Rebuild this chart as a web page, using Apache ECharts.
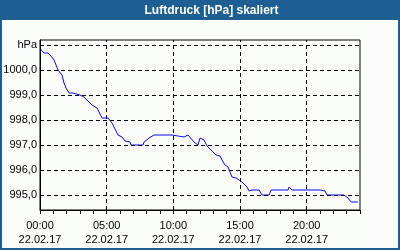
<!DOCTYPE html>
<html>
<head>
<meta charset="utf-8">
<script src="https://cdn.jsdelivr.net/npm/echarts@6/dist/echarts.min.js"></script>
<style>
html,body{margin:0;padding:0;background:#1d5e93;}
#c{width:400px;height:250px;}
</style>
</head>
<body>
<div id="c"></div>
<script>
// time in hours since 22.02.17 00:00
var hours = [0.04,0.3,0.6,0.83,1.05,1.35,1.5,1.65,1.8,1.95,2.18,2.48,3.0,3.3,3.6,3.9,4.28,4.5,4.65,5.1,5.4,5.63,5.85,6.15,6.38,6.75,6.83,7.73,7.8,8.18,8.55,8.93,9.0,9.15,9.9,10.05,10.8,11.1,11.25,11.55,11.85,12.0,12.15,12.3,12.53,12.9,13.2,13.5,13.73,13.88,14.1,14.4,14.7,14.93,15.23,15.53,15.68,15.9,16.43,16.65,17.18,17.33,18.6,18.68,18.9,19.05,19.2,20.7,20.85,21.0,21.38,21.53,22.8,23.1,23.33,23.85];
var pressure = [1000.84,1000.68,1000.68,1000.56,1000.4,1000.0,999.92,999.8,999.48,999.28,999.08,999.08,999.0,998.92,998.76,998.6,998.48,998.24,998.08,998.08,997.88,997.64,997.4,997.32,997.16,997.12,997.0,997.0,997.12,997.28,997.4,997.4,997.48,997.4,997.4,997.32,997.32,997.4,997.32,997.12,997.0,997.28,997.32,997.2,996.96,996.76,996.6,996.56,996.32,996.2,996.12,995.72,995.68,995.6,995.48,995.32,995.16,995.2,995.2,995.0,995.0,995.2,995.2,995.32,995.2,995.16,995.2,995.2,995.12,995.2,995.16,995.0,995.0,994.88,994.72,994.72];
var yGridValues = [995,996,997,998,999,1000,1001];
var xGridHours = [5,10,15,20];
var xLabelHours = [0,5,10,15,20];
var dateLabel = '22.02.17';
var unitLabel = 'hPa';
var titleText = 'Luftdruck [hPa] skaliert';

var data = hours.map(function(h,i){return [h, pressure[i]];});
var gridLines = yGridValues.map(function(v){return {yAxis:v};})
  .concat(xGridHours.map(function(h){return {xAxis:h};}));

var chart = echarts.init(document.getElementById('c'), null, {renderer:'canvas'});
var font = '"Liberation Sans", Arial, sans-serif';
chart.setOption({
  animation:false,
  backgroundColor:'#1d5e93',
  graphic:[
    {type:'rect', shape:{x:2,y:20,width:396,height:228}, style:{fill:'#fbfdfb'}, z:-10, silent:true},
    {type:'text', x:211.5, y:10.5, style:{text:titleText, fill:'#ffffff', font:'bold 12px '+font, align:'center', verticalAlign:'middle'}, silent:true}
  ],
  grid:{left:40, top:40, width:320, height:170, show:true, borderColor:'#000', borderWidth:1, backgroundColor:'transparent'},
  xAxis:{
    type:'value', min:0, max:24, interval:1,
    axisLine:{show:true, lineStyle:{color:'#000', width:1}},
    axisTick:{show:true, length:4, lineStyle:{color:'#000'}},
    splitLine:{show:false},
    axisLabel:{
      margin:9, color:'#000', fontFamily:font, fontSize:11, lineHeight:14,
      showMinLabel:true, showMaxLabel:true,
      formatter:function(v){
        var h = Math.round(v);
        if (Math.abs(v-h) > 1e-6 || xLabelHours.indexOf(h) < 0) return '';
        return (h<10?'0':'')+h+':00\n'+dateLabel;
      }
    }
  },
  yAxis:{
    type:'value', min:994.4, max:1001.2, interval:0.2,
    axisLine:{show:true, lineStyle:{color:'#000', width:1}},
    axisTick:{show:false},
    splitLine:{show:false},
    axisLabel:{
      margin:3, color:'#000', fontFamily:font, fontSize:11,
      showMinLabel:true, showMaxLabel:true,
      formatter:function(v){
        var r = Math.round(v);
        if (Math.abs(v-r) > 1e-6 || yGridValues.indexOf(r) < 0) return '';
        if (r === 1001) return unitLabel;
        return r.toFixed(1).replace('.', ',');
      }
    }
  },
  series:[
    {
      type:'line', data:[], z:1, silent:true,
      markLine:{silent:true, symbol:'none', label:{show:false}, animation:false,
        lineStyle:{color:'#000', width:1, type:[4,3]}, emphasis:{disabled:true},
        data:gridLines}
    },
    {
      type:'line', data:data, z:3, symbol:'none', silent:true,
      lineStyle:{color:'#0808ff', width:1}
    }
  ]
});
</script>
</body>
</html>
